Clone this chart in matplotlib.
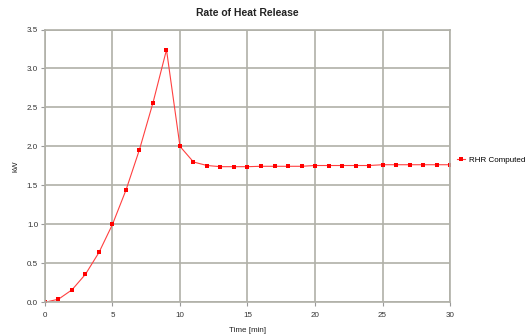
import matplotlib
matplotlib.use("Agg")
import matplotlib.pyplot as plt

# ---------- DATA ----------
time_min = list(range(0, 31))
rhr_kw = [0.0, 0.04, 0.16, 0.36, 0.64, 1.0, 1.44, 1.96, 2.56, 3.24,
          2.0, 1.80, 1.755, 1.74, 1.74, 1.74, 1.745, 1.745, 1.745, 1.745,
          1.755, 1.755, 1.755, 1.755, 1.755, 1.765, 1.765, 1.765, 1.765, 1.765,
          1.765]
series_label = "RHR Computed"
title = "Rate of Heat Release"
x_ticks = [0, 5, 10, 15, 20, 25, 30]
y_ticks = [0.0, 0.5, 1.0, 1.5, 2.0, 2.5, 3.0, 3.5]

plt.rcParams["font.family"] = ["Liberation Sans", "DejaVu Sans"]

fig = plt.figure(figsize=(5.31, 3.36), dpi=100, facecolor="white")
ax = fig.add_axes([0.0847, 0.1003, 0.7628, 0.8119])

ax.plot(time_min, rhr_kw, color="#ff4040", linewidth=0.8, marker="s",
        markersize=3.0, markeredgewidth=0, markerfacecolor="#ff0000",
        label=series_label)

ax.set_xlim(0, 30)
ax.set_ylim(0, 3.5)
ax.set_xticks(x_ticks)
ax.set_yticks(y_ticks)
ax.set_yticklabels([f"{v:.1f}" for v in y_ticks])
ax.tick_params(labelsize=5.8, colors="#333333", length=3, width=0.8,
               color="#999999")
ax.tick_params(axis="x", pad=4)
ax.tick_params(axis="y", pad=2)
ax.grid(True, color="#b0b0a8", linewidth=1.2)
ax.set_axisbelow(True)
for s in ax.spines.values():
    s.set_color("#b0b0a8")
    s.set_linewidth(1.2)

ax.set_title(title, fontsize=7.5, fontweight="bold", color="#222222", pad=10)
ax.set_xlabel("Time [min]", fontsize=5.8, color="#222222", labelpad=6)
ax.set_ylabel("kW", fontsize=5.8, color="#222222", labelpad=5)

ax.legend(loc="center left", bbox_to_anchor=(1.0, 0.52), frameon=False,
          fontsize=5.8, handlelength=1.0, handletextpad=0.4)

fig.savefig("out.png", dpi=100, facecolor="white")
